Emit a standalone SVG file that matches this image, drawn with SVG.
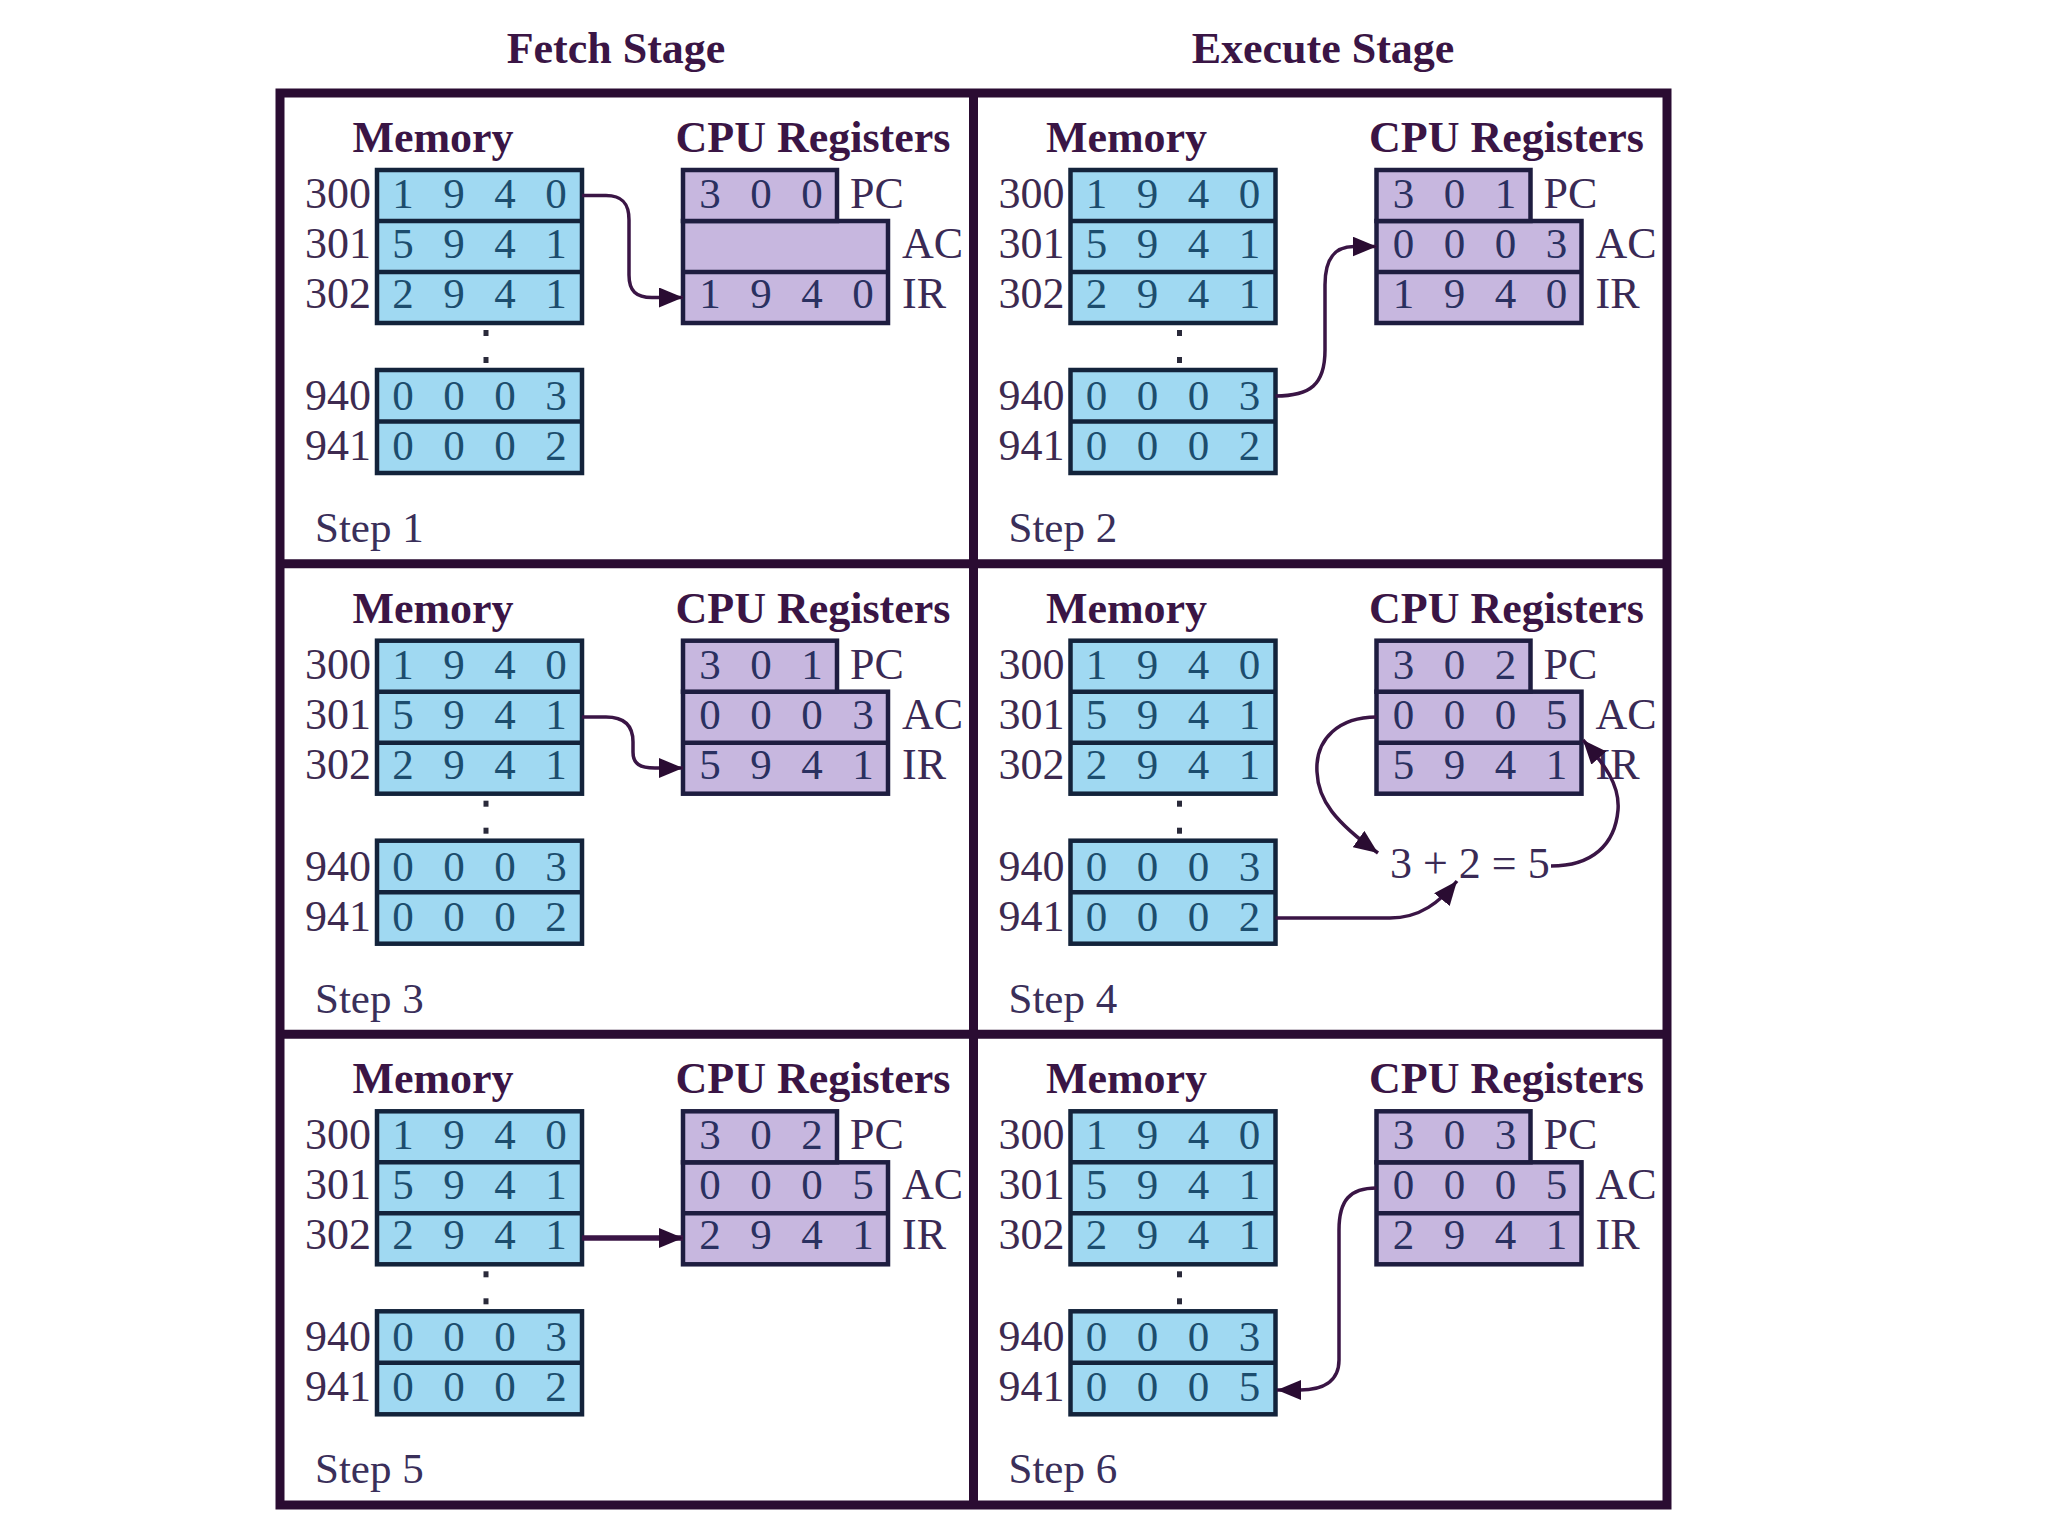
<svg xmlns="http://www.w3.org/2000/svg" width="2048" height="1536" viewBox="0 0 2048 1536">
<style>
.bg{fill:#ffffff}
.frame{fill:none;stroke:#2a0c32;stroke-width:9}
.div{stroke:#2a0c32;stroke-width:9}
.mem{fill:#a0d9f2;stroke:#13233b;stroke-width:4.5}
.reg{fill:#c7b7df;stroke:#1e1d40;stroke-width:4.5}
.msep{stroke:#13233b;stroke-width:4.5}
.rsep{stroke:#1e1d40;stroke-width:4.5}
.dot{fill:#2a2a3a}
.stage{font-family:"Liberation Serif",serif;font-weight:bold;font-size:44px;fill:#3a1545;text-anchor:middle}
.title{font-family:"Liberation Serif",serif;font-weight:bold;font-size:44px;fill:#3a1545;text-anchor:middle}
.addr{font-family:"Liberation Serif",serif;font-size:44px;fill:#3d2a50;text-anchor:end}
.md{font-family:"Liberation Serif",serif;font-size:43px;fill:#1c4d6e;text-anchor:middle}
.rd{font-family:"Liberation Serif",serif;font-size:43px;fill:#2a3060;text-anchor:middle}
.lbl{font-family:"Liberation Serif",serif;font-size:44px;fill:#3a2a55}
.step{font-family:"Liberation Serif",serif;font-size:43px;fill:#3a2f5a}
.eq{font-family:"Liberation Serif",serif;font-size:44px;fill:#3a2a55}
.conn{fill:none;stroke:#3a1545;stroke-width:3.5;marker-end:url(#ah)}
.thick{stroke-width:5.5}
</style>
<defs>
<marker id="ah" viewBox="0 0 24 20" refX="24" refY="10" markerWidth="24" markerHeight="20" markerUnits="userSpaceOnUse" orient="auto">
<path d="M0,0 L24,10 L0,20 z" fill="#2a0c32"/>
</marker>
</defs>
<rect class="bg" x="0" y="0" width="2048" height="1536"/>

<g id="titles">
<text class="stage" x="616" y="63">Fetch Stage</text>
<text class="stage" x="1323" y="63">Execute Stage</text>
</g>

<g id="frame">
<rect class="frame" x="280" y="93" width="1387" height="1412"/>
<line class="div" x1="973.5" y1="93" x2="973.5" y2="1505"/>
<line class="div" x1="280" y1="563.7" x2="1667" y2="563.7"/>
<line class="div" x1="280" y1="1034.3" x2="1667" y2="1034.3"/>
</g>

<g id="step1" transform="translate(280,93)">
<text class="title" x="153" y="59">Memory</text>
<text class="title" x="533" y="59">CPU Registers</text>
<rect class="mem" x="97" y="77" width="205" height="153"/>
<line class="msep" x1="97" y1="128" x2="302" y2="128"/>
<line class="msep" x1="97" y1="179" x2="302" y2="179"/>
<rect class="mem" x="97" y="277" width="205" height="103"/>
<line class="msep" x1="97" y1="328.5" x2="302" y2="328.5"/>
<rect class="dot" x="203.5" y="237" width="5" height="6"/>
<rect class="dot" x="203.5" y="264" width="5" height="6"/>
<text class="addr" x="91" y="115">300</text>
<text class="addr" x="91" y="165">301</text>
<text class="addr" x="91" y="215">302</text>
<text class="addr" x="91" y="317">940</text>
<text class="addr" x="91" y="367">941</text>
<text class="md" x="123 174 225 276" y="115">1940</text>
<text class="md" x="123 174 225 276" y="165">5941</text>
<text class="md" x="123 174 225 276" y="215">2941</text>
<text class="md" x="123 174 225 276" y="317">0003</text>
<text class="md" x="123 174 225 276" y="367">0002</text>
<rect class="reg" x="403" y="128" width="205" height="102"/>
<line class="rsep" x1="403" y1="179" x2="608" y2="179"/>
<rect class="reg" x="403" y="77" width="154" height="51"/>
<text class="rd" x="430 481 532" y="115">300</text>
<text class="rd" x="430 481 532 583" y="215">1940</text>
<text class="lbl" x="570" y="115">PC</text>
<text class="lbl" x="622" y="165">AC</text>
<text class="lbl" x="622" y="215">IR</text>
<text class="step" x="35" y="449">Step 1</text>
</g>

<g id="step2" transform="translate(973.5,93)">
<text class="title" x="153" y="59">Memory</text>
<text class="title" x="533" y="59">CPU Registers</text>
<rect class="mem" x="97" y="77" width="205" height="153"/>
<line class="msep" x1="97" y1="128" x2="302" y2="128"/>
<line class="msep" x1="97" y1="179" x2="302" y2="179"/>
<rect class="mem" x="97" y="277" width="205" height="103"/>
<line class="msep" x1="97" y1="328.5" x2="302" y2="328.5"/>
<rect class="dot" x="203.5" y="237" width="5" height="6"/>
<rect class="dot" x="203.5" y="264" width="5" height="6"/>
<text class="addr" x="91" y="115">300</text>
<text class="addr" x="91" y="165">301</text>
<text class="addr" x="91" y="215">302</text>
<text class="addr" x="91" y="317">940</text>
<text class="addr" x="91" y="367">941</text>
<text class="md" x="123 174 225 276" y="115">1940</text>
<text class="md" x="123 174 225 276" y="165">5941</text>
<text class="md" x="123 174 225 276" y="215">2941</text>
<text class="md" x="123 174 225 276" y="317">0003</text>
<text class="md" x="123 174 225 276" y="367">0002</text>
<rect class="reg" x="403" y="128" width="205" height="102"/>
<line class="rsep" x1="403" y1="179" x2="608" y2="179"/>
<rect class="reg" x="403" y="77" width="154" height="51"/>
<text class="rd" x="430 481 532" y="115">301</text>
<text class="rd" x="430 481 532 583" y="165">0003</text>
<text class="rd" x="430 481 532 583" y="215">1940</text>
<text class="lbl" x="570" y="115">PC</text>
<text class="lbl" x="622" y="165">AC</text>
<text class="lbl" x="622" y="215">IR</text>
<text class="step" x="35" y="449">Step 2</text>
</g>

<g id="step3" transform="translate(280,563.7)">
<text class="title" x="153" y="59">Memory</text>
<text class="title" x="533" y="59">CPU Registers</text>
<rect class="mem" x="97" y="77" width="205" height="153"/>
<line class="msep" x1="97" y1="128" x2="302" y2="128"/>
<line class="msep" x1="97" y1="179" x2="302" y2="179"/>
<rect class="mem" x="97" y="277" width="205" height="103"/>
<line class="msep" x1="97" y1="328.5" x2="302" y2="328.5"/>
<rect class="dot" x="203.5" y="237" width="5" height="6"/>
<rect class="dot" x="203.5" y="264" width="5" height="6"/>
<text class="addr" x="91" y="115">300</text>
<text class="addr" x="91" y="165">301</text>
<text class="addr" x="91" y="215">302</text>
<text class="addr" x="91" y="317">940</text>
<text class="addr" x="91" y="367">941</text>
<text class="md" x="123 174 225 276" y="115">1940</text>
<text class="md" x="123 174 225 276" y="165">5941</text>
<text class="md" x="123 174 225 276" y="215">2941</text>
<text class="md" x="123 174 225 276" y="317">0003</text>
<text class="md" x="123 174 225 276" y="367">0002</text>
<rect class="reg" x="403" y="128" width="205" height="102"/>
<line class="rsep" x1="403" y1="179" x2="608" y2="179"/>
<rect class="reg" x="403" y="77" width="154" height="51"/>
<text class="rd" x="430 481 532" y="115">301</text>
<text class="rd" x="430 481 532 583" y="165">0003</text>
<text class="rd" x="430 481 532 583" y="215">5941</text>
<text class="lbl" x="570" y="115">PC</text>
<text class="lbl" x="622" y="165">AC</text>
<text class="lbl" x="622" y="215">IR</text>
<text class="step" x="35" y="449">Step 3</text>
</g>

<g id="step4" transform="translate(973.5,563.7)">
<text class="title" x="153" y="59">Memory</text>
<text class="title" x="533" y="59">CPU Registers</text>
<rect class="mem" x="97" y="77" width="205" height="153"/>
<line class="msep" x1="97" y1="128" x2="302" y2="128"/>
<line class="msep" x1="97" y1="179" x2="302" y2="179"/>
<rect class="mem" x="97" y="277" width="205" height="103"/>
<line class="msep" x1="97" y1="328.5" x2="302" y2="328.5"/>
<rect class="dot" x="203.5" y="237" width="5" height="6"/>
<rect class="dot" x="203.5" y="264" width="5" height="6"/>
<text class="addr" x="91" y="115">300</text>
<text class="addr" x="91" y="165">301</text>
<text class="addr" x="91" y="215">302</text>
<text class="addr" x="91" y="317">940</text>
<text class="addr" x="91" y="367">941</text>
<text class="md" x="123 174 225 276" y="115">1940</text>
<text class="md" x="123 174 225 276" y="165">5941</text>
<text class="md" x="123 174 225 276" y="215">2941</text>
<text class="md" x="123 174 225 276" y="317">0003</text>
<text class="md" x="123 174 225 276" y="367">0002</text>
<rect class="reg" x="403" y="128" width="205" height="102"/>
<line class="rsep" x1="403" y1="179" x2="608" y2="179"/>
<rect class="reg" x="403" y="77" width="154" height="51"/>
<text class="rd" x="430 481 532" y="115">302</text>
<text class="rd" x="430 481 532 583" y="165">0005</text>
<text class="rd" x="430 481 532 583" y="215">5941</text>
<text class="lbl" x="570" y="115">PC</text>
<text class="lbl" x="622" y="165">AC</text>
<text class="lbl" x="622" y="215">IR</text>
<text class="eq" x="416.5" y="314">3 + 2 = 5</text>
<text class="step" x="35" y="449">Step 4</text>
</g>

<g id="step5" transform="translate(280,1034.3)">
<text class="title" x="153" y="59">Memory</text>
<text class="title" x="533" y="59">CPU Registers</text>
<rect class="mem" x="97" y="77" width="205" height="153"/>
<line class="msep" x1="97" y1="128" x2="302" y2="128"/>
<line class="msep" x1="97" y1="179" x2="302" y2="179"/>
<rect class="mem" x="97" y="277" width="205" height="103"/>
<line class="msep" x1="97" y1="328.5" x2="302" y2="328.5"/>
<rect class="dot" x="203.5" y="237" width="5" height="6"/>
<rect class="dot" x="203.5" y="264" width="5" height="6"/>
<text class="addr" x="91" y="115">300</text>
<text class="addr" x="91" y="165">301</text>
<text class="addr" x="91" y="215">302</text>
<text class="addr" x="91" y="317">940</text>
<text class="addr" x="91" y="367">941</text>
<text class="md" x="123 174 225 276" y="115">1940</text>
<text class="md" x="123 174 225 276" y="165">5941</text>
<text class="md" x="123 174 225 276" y="215">2941</text>
<text class="md" x="123 174 225 276" y="317">0003</text>
<text class="md" x="123 174 225 276" y="367">0002</text>
<rect class="reg" x="403" y="128" width="205" height="102"/>
<line class="rsep" x1="403" y1="179" x2="608" y2="179"/>
<rect class="reg" x="403" y="77" width="154" height="51"/>
<text class="rd" x="430 481 532" y="115">302</text>
<text class="rd" x="430 481 532 583" y="165">0005</text>
<text class="rd" x="430 481 532 583" y="215">2941</text>
<text class="lbl" x="570" y="115">PC</text>
<text class="lbl" x="622" y="165">AC</text>
<text class="lbl" x="622" y="215">IR</text>
<text class="step" x="35" y="449">Step 5</text>
</g>

<g id="step6" transform="translate(973.5,1034.3)">
<text class="title" x="153" y="59">Memory</text>
<text class="title" x="533" y="59">CPU Registers</text>
<rect class="mem" x="97" y="77" width="205" height="153"/>
<line class="msep" x1="97" y1="128" x2="302" y2="128"/>
<line class="msep" x1="97" y1="179" x2="302" y2="179"/>
<rect class="mem" x="97" y="277" width="205" height="103"/>
<line class="msep" x1="97" y1="328.5" x2="302" y2="328.5"/>
<rect class="dot" x="203.5" y="237" width="5" height="6"/>
<rect class="dot" x="203.5" y="264" width="5" height="6"/>
<text class="addr" x="91" y="115">300</text>
<text class="addr" x="91" y="165">301</text>
<text class="addr" x="91" y="215">302</text>
<text class="addr" x="91" y="317">940</text>
<text class="addr" x="91" y="367">941</text>
<text class="md" x="123 174 225 276" y="115">1940</text>
<text class="md" x="123 174 225 276" y="165">5941</text>
<text class="md" x="123 174 225 276" y="215">2941</text>
<text class="md" x="123 174 225 276" y="317">0003</text>
<text class="md" x="123 174 225 276" y="367">0005</text>
<rect class="reg" x="403" y="128" width="205" height="102"/>
<line class="rsep" x1="403" y1="179" x2="608" y2="179"/>
<rect class="reg" x="403" y="77" width="154" height="51"/>
<text class="rd" x="430 481 532" y="115">303</text>
<text class="rd" x="430 481 532 583" y="165">0005</text>
<text class="rd" x="430 481 532 583" y="215">2941</text>
<text class="lbl" x="570" y="115">PC</text>
<text class="lbl" x="622" y="165">AC</text>
<text class="lbl" x="622" y="215">IR</text>
<text class="step" x="35" y="449">Step 6</text>
</g>

<g id="connectors">
<path class="conn" d="M582,195.5 H606 C622,195.5 629,203 629,220 V275 C629,291 636,297.5 652,297.5 H683"/>
<path class="conn" d="M1275.5,396 C1310,396 1325,385 1325,350 V285 C1325,258 1335,246.5 1354,246.5 H1376.5"/>
<path class="conn" d="M582,717 H606 C624,717 633,725 633,742 V752 C633,764 640,768 655,768 H683"/>
<path class="conn" d="M1376.5,717 C1340,717 1315,738 1317,772 C1318,800 1335,822 1378,853"/>
<path class="conn" d="M1275.5,918 H1390 C1420,918 1440,902 1457,881"/>
<path class="conn" d="M1551,866 C1592,866 1615,845 1618,810 C1620,785 1605,765 1583,740"/>
<path class="conn thick" d="M582,1238 H683"/>
<path class="conn" d="M1376.5,1188 C1350,1188 1339,1200 1339,1230 V1360 C1339,1382 1322,1390 1300,1390 H1277"/>
</g>
</svg>
